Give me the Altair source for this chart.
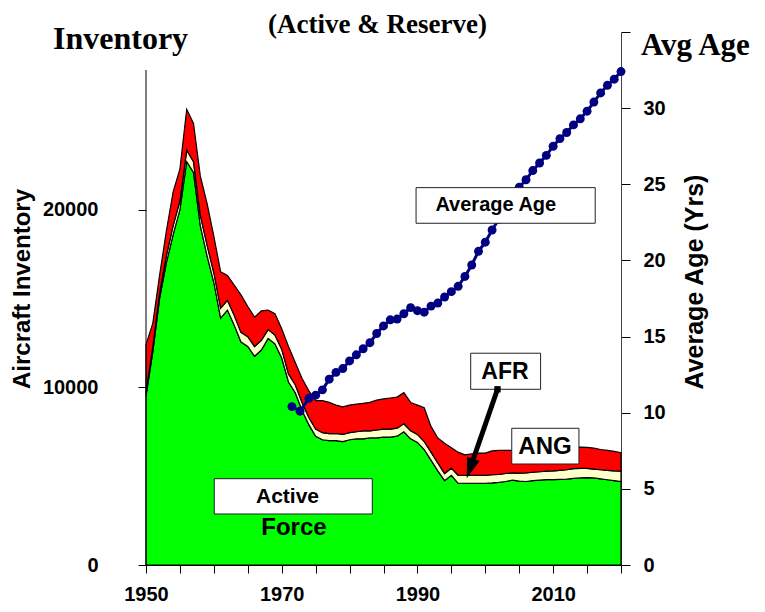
import altair as alt
import pandas as pd

# ---------------- data ----------------
years = list(range(1950, 2021))
active = [9500, 12000, 15000, 17000, 18600, 20000, 22700, 22100, 19100, 17400,
          15900, 13900, 14350, 13500, 12550, 12300, 11750, 12100, 12750, 12450,
          11650, 10300, 9700, 8700, 7900, 7250, 7050, 7000, 7000, 6950,
          7050, 7100, 7100, 7150, 7150, 7200, 7200, 7250, 7500, 7100,
          6900, 6500, 5900, 5300, 4750, 5050, 4600, 4600, 4600, 4600,
          4600, 4620, 4650, 4700, 4780, 4720, 4700, 4750, 4780, 4800,
          4800, 4820, 4830, 4880, 4900, 4920, 4900, 4850, 4800, 4750,
          4700]
afr = [200, 300, 300, 400, 500, 500, 650, 600, 600, 600,
       550, 550, 550, 550, 550, 550, 550, 550, 500, 500,
       500, 450, 450, 450, 400, 400, 400, 400, 400, 400,
       400, 400, 450, 400, 450, 450, 450, 450, 450, 450,
       450, 450, 450, 450, 400, 400, 450, 450, 450, 450,
       450, 460, 450, 450, 400, 450, 480, 470, 470, 480,
       500, 510, 530, 540, 540, 520, 500, 510, 530, 550,
       580]
ang = [2700, 1300, 1000, 1400, 1900, 1800, 2300, 2150, 2200, 2350,
       2050, 2050, 1400, 1700, 2100, 1700, 1650, 1650, 1100, 1200,
       1150, 1550, 1250, 1350, 1500, 1600, 1800, 1750, 1600, 1550,
       1550, 1550, 1550, 1600, 1680, 1700, 1750, 1750, 1750, 1600,
       1650, 1900, 1450, 1400, 1700, 1150, 1300, 1150, 1200, 1250,
       1250, 1340, 1350, 1300, 1270, 1280, 1300, 1280, 1270, 1270,
       1250, 1250, 1240, 1200, 1190, 1180, 1180, 1140, 1120, 1100,
       1040]
series_names = ["Active", "AFR", "ANG"]
series_colors = ["#00FF00", "#FFFFCC", "#FF0000"]

age_years = [1971.5, 1972.7, 1974, 1975, 1976, 1977, 1978, 1979, 1980, 1981,
             1982, 1983, 1984, 1985, 1986, 1987, 1988, 1989, 1990, 1991,
             1992, 1993, 1994, 1995, 1996, 1997, 1998, 1999, 2000, 2001,
             2002, 2003, 2004, 2005, 2006, 2007, 2008, 2009, 2010, 2011,
             2012, 2013, 2014, 2015, 2016, 2017, 2018, 2019, 2020]
avg_age = [10.4, 10.1, 10.95, 11.15, 11.5, 12.2, 12.65, 12.9, 13.4, 13.8,
           14.2, 14.6, 15.2, 15.7, 16.1, 16.15, 16.5, 16.9, 16.7, 16.6,
           17.0, 17.2, 17.6, 17.95, 18.3, 18.95, 19.7, 20.6, 21.2, 22.0,
           22.7, 23.4, 24.1, 24.8, 25.3, 25.9, 26.4, 26.9, 27.5, 28.0,
           28.4, 28.9, 29.3, 29.8, 30.4, 31.0, 31.5, 31.9, 32.4]

x_ticks = list(range(1950, 2021, 5))
inv_ticks = [0, 10000, 20000]
age_ticks = list(range(0, 36, 5))

# annotation boxes (year / inventory coordinates)
box_x1 = [1989.8, 1997.85, 2003.9, 1960.06]
box_x2 = [2016.2, 2008.15, 2013.8, 1983.35]
box_y1 = [19235, 9890, 5685, 2871]
box_y2 = [21240, 11920, 7695, 4858]
lab_text = ["Average Age", "AFR", "ANG", "Active", "Force"]
lab_x = [2001.55, 2002.9, 2008.8, 1970.85, 1971.8]
lab_y = [20265, 10865, 6640, 3828, 2083]
lab_size = [20, 23, 24, 21, 24]

# ---------------- tables ----------------
rows = []
for i, yr in enumerate(years):
    for k, (name, vals) in enumerate(zip(series_names, [active, afr, ang])):
        rows.append({"year": yr, "series": name, "ord": k, "value": vals[i]})
area_df = pd.DataFrame(rows)
age_df = pd.DataFrame({"year": age_years, "age": avg_age})
box_df = pd.DataFrame({"x1": box_x1, "x2": box_x2, "y1": box_y1, "y2": box_y2})
lab_df = pd.DataFrame({"x": lab_x, "y": lab_y, "t": lab_text, "fs": lab_size})

FONT = "Liberation Sans"
SERIF = "Liberation Serif"

xscale = alt.Scale(domain=[1950, 2020], nice=False, zero=False)
x_axis = alt.Axis(values=x_ticks, format="d",
                  labelExpr="(datum.value - 1950) % 20 == 0 ? datum.label : ''",
                  title=None, grid=False, tickSize=8, labelPadding=11,
                  labelFont=FONT, labelFontWeight="bold", labelFontSize=20,
                  labelColor="black", domainColor="black", tickColor="black",
                  labelFlush=False, labelOverlap=False, labelBound=False)
inv_scale = alt.Scale(domain=[0, 30000], nice=False, zero=True)
inv_axis = alt.Axis(orient="left", values=inv_ticks, format="d", domain=False,
                    grid=False, title=None, tickSize=8, labelPadding=40,
                    labelFont=FONT, labelFontWeight="bold", labelFontSize=20,
                    labelColor="black", tickColor="black")
age_scale = alt.Scale(domain=[0, 35], nice=False, zero=True)
age_axis = alt.Axis(orient="right", values=age_ticks, format="d",
                    labelExpr="datum.value == 35 ? '' : datum.label",
                    grid=False, title=None, tickSize=9, labelPadding=13,
                    labelFont=FONT, labelFontWeight="bold", labelFontSize=20,
                    labelColor="black", tickColor="black", domainColor="#444")

X = lambda f: alt.X(f, scale=xscale, axis=x_axis)

areas = alt.Chart(area_df).mark_area(stroke="black", strokeWidth=1.2,
                                     interpolate="linear", opacity=1).encode(
    x=X("year:Q"),
    y=alt.Y("value:Q", stack="zero", scale=inv_scale, axis=inv_axis),
    color=alt.Color("series:N", scale=alt.Scale(domain=series_names, range=series_colors),
                    legend=None),
    order=alt.Order("ord:Q", sort="ascending"),
)
left_line = alt.Chart(pd.DataFrame({"year": [1950], "lo": [0], "hi": [27860]})).mark_rule(
    color="black", strokeWidth=1).encode(
    x=X("year:Q"),
    y=alt.Y("lo:Q", scale=inv_scale, axis=inv_axis),
    y2="hi:Q",
)
area_group = alt.layer(areas, left_line)

age_line = alt.Chart(age_df).mark_line(color="#000080", strokeWidth=3).encode(
    x=X("year:Q"), y=alt.Y("age:Q", scale=age_scale, axis=age_axis))
age_pts = alt.Chart(age_df).mark_circle(color="#000080", size=80, opacity=1).encode(
    x=X("year:Q"), y=alt.Y("age:Q", scale=age_scale, axis=age_axis))
age_group = alt.layer(age_line, age_pts)

ann_scale = alt.Scale(domain=[0, 30000], nice=False, zero=True)
boxes = alt.Chart(box_df).mark_rect(fill="white", stroke="#222", strokeWidth=1).encode(
    x=X("x1:Q"), x2="x2:Q",
    y=alt.Y("y1:Q", scale=ann_scale, axis=None), y2="y2:Q")
labels = alt.Chart(lab_df).mark_text(font=FONT, fontWeight="bold", color="black",
                                     align="center", baseline="middle").encode(
    x=X("x:Q"), y=alt.Y("y:Q", scale=ann_scale, axis=None), text="t:N",
    size=alt.Size("fs:Q", scale=None, legend=None))
arrow_df = pd.DataFrame({"x": [2001.8], "y": [9890], "x2": [1998.0], "y2": [5700]})
arrow_line = alt.Chart(arrow_df).mark_rule(color="black", strokeWidth=5).encode(
    x=X("x:Q"), y=alt.Y("y:Q", scale=ann_scale, axis=None), x2="x2:Q", y2="y2:Q")
arrow_start = alt.Chart(arrow_df).mark_square(color="black", size=40, opacity=1).encode(
    x=X("x:Q"), y=alt.Y("y:Q", scale=ann_scale, axis=None))
head_df = pd.DataFrame({"x": [1997.26], "y": [4880]})
arrow_head = alt.Chart(head_df).mark_point(shape="M0,0L-0.65,-2L0.65,-2Z", filled=True,
                                           color="black", size=420, angle=19,
                                           opacity=1).encode(
    x=X("x:Q"), y=alt.Y("y:Q", scale=ann_scale, axis=None))
ann_group = alt.layer(boxes, arrow_line, arrow_start, arrow_head, labels)


def free_text(txt, x, y, font, size, align="left", angle=0, baseline="alphabetic"):
    return alt.Chart(pd.DataFrame({"t": [txt]})).mark_text(
        font=font, fontWeight="bold", fontSize=size, color="black",
        align=align, baseline=baseline, angle=angle).encode(
        x=alt.value(x), y=alt.value(y), text="t:N")


titles = [
    free_text("Inventory", -93, 17, SERIF, 32),
    free_text("(Active & Reserve)", 122, 1, SERIF, 27),
    free_text("Avg Age", 495, 23, SERIF, 31),
    free_text("Aircraft Inventory", -123, 257, FONT, 24, align="center", angle=270,
              baseline="middle"),
    free_text("Average Age (Yrs)", 549, 250, FONT, 25, align="center", angle=270,
              baseline="middle"),
]

chart = alt.layer(area_group, age_group, ann_group, *titles).resolve_scale(
    y="independent").properties(
    width=475, height=533,
    padding={"left": 138, "top": 24, "right": 136, "bottom": 39},
    autosize=alt.AutoSizeParams(type="none"),
).configure_view(stroke=None)

chart.save("out.html", embed_options={"renderer": "svg", "actions": False})
